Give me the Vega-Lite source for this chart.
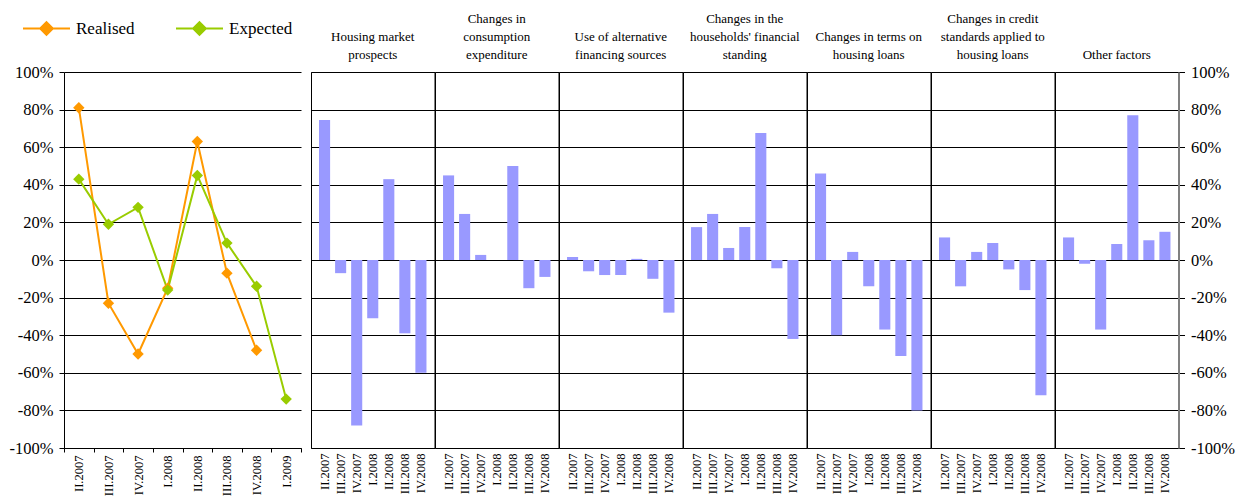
{
 "$schema": "https://vega.github.io/schema/vega-lite/v6.json",
 "background": "white",
 "padding": {"left": 9, "top": 4, "right": 5, "bottom": 0},
 "bounds": "flush",
 "spacing": 0,
 "config": {
  "font": "Liberation Serif",
  "view": {"stroke": "#000", "strokeWidth": 1},
  "axis": {"labelFont": "Liberation Serif", "labelColor": "#000", "gridColor": "#000", "gridOpacity": 1, "gridWidth": 1, "domainColor": "#000", "tickColor": "#000", "title": null},
  "axisX": {"labelAngle": -90, "labelFontSize": 12.5, "ticks": false, "domain": false, "labelPadding": 5},
  "axisY": {"values": [-100, -80, -60, -40, -20, 0, 20, 40, 60, 80, 100], "labelExpr": "datum.value + '%'", "grid": true, "labels": false, "ticks": false, "domain": false},
  "title": {"font": "Liberation Serif", "fontSize": 13, "fontWeight": "normal", "lineHeight": 18, "offset": 10, "anchor": "middle", "color": "#000", "baseline": "bottom"},
  "bar": {"color": "#9999FF"}
 },
 "hconcat": [
  {
   "width": 246.7, "height": 376,
   "view": {"stroke": null},
   "data": {"values": [
    {"q": "II.2007", "s": "Realised", "v": 81},
    {"q": "III.2007", "s": "Realised", "v": -23},
    {"q": "IV.2007", "s": "Realised", "v": -50},
    {"q": "I.2008", "s": "Realised", "v": -15},
    {"q": "II.2008", "s": "Realised", "v": 63},
    {"q": "III.2008", "s": "Realised", "v": -7},
    {"q": "IV.2008", "s": "Realised", "v": -48},
    {"q": "II.2007", "s": "Expected", "v": 43},
    {"q": "III.2007", "s": "Expected", "v": 19},
    {"q": "IV.2007", "s": "Expected", "v": 28},
    {"q": "I.2008", "s": "Expected", "v": -16},
    {"q": "II.2008", "s": "Expected", "v": 45},
    {"q": "III.2008", "s": "Expected", "v": 9},
    {"q": "IV.2008", "s": "Expected", "v": -14},
    {"q": "I.2009", "s": "Expected", "v": -74}
   ]},
   "encoding": {
    "x": {"field": "q", "type": "ordinal", "sort": ["II.2007", "III.2007", "IV.2007", "I.2008", "II.2008", "III.2008", "IV.2008", "I.2009"],
          "scale": {"range": [0, 237], "paddingInner": 0, "paddingOuter": 0},
          "axis": {"tickBand": "extent", "ticks": true, "tickSize": 4, "domain": true, "labelPadding": 3}},
    "y": {"field": "v", "type": "quantitative", "scale": {"domain": [-100, 100], "nice": false},
          "axis": {"labels": true, "labelFontSize": 16.5, "ticks": true, "tickSize": 5, "labelPadding": 6, "domain": true}}
   },
   "layer": [
    {"mark": {"type": "line", "strokeWidth": 2},
     "encoding": {"color": {"field": "s", "type": "nominal", "scale": {"domain": ["Realised", "Expected"], "range": ["#FF9900", "#99CC00"]},
       "legend": {"orient": "none", "legendX": -42, "legendY": -68, "direction": "horizontal", "title": null,
                  "symbolType": "M-1,0L1,0M0,-0.27L0.27,0L0,0.27L-0.27,0Z", "symbolSize": 2209, "symbolStrokeWidth": 2,
                  "labelFontSize": 17, "labelFont": "Liberation Serif", "labelColor": "#000", "labelOffset": 5, "columnPadding": 37,
                  "encode": {"symbols": {"update": {"fill": {"scale": "color", "field": "value"}, "opacity": {"value": 1}}}}}}}},
    {"mark": {"type": "point", "shape": "diamond", "filled": true, "size": 130, "opacity": 1},
     "encoding": {"color": {"field": "s", "type": "nominal", "legend": null}}}
   ]
  },
  {
   "width": 123.5, "height": 376,
   "title": {"text": ["Housing market", "prospects"]},
   "data": {"values": [
    {"q": "II.2007", "v": 74.5}, {"q": "III.2007", "v": -7}, {"q": "IV.2007", "v": -88}, {"q": "I.2008", "v": -31},
    {"q": "II.2008", "v": 43}, {"q": "III.2008", "v": -39}, {"q": "IV.2008", "v": -60}]},
   "mark": "bar",
   "encoding": {
    "x": {"field": "q", "type": "ordinal", "sort": null, "scale": {"paddingInner": 0.31, "paddingOuter": 0.5}},
    "y": {"field": "v", "type": "quantitative", "scale": {"domain": [-100, 100], "nice": false}}
   }
  },
  {
   "width": 123.5, "height": 376,
   "title": {"text": ["Changes in", "consumption", "expenditure"]},
   "data": {"values": [
    {"q": "II.2007", "v": 45}, {"q": "III.2007", "v": 24.5}, {"q": "IV.2007", "v": 2.7}, {"q": "I.2008", "v": 0},
    {"q": "II.2008", "v": 50}, {"q": "III.2008", "v": -15}, {"q": "IV.2008", "v": -9}]},
   "mark": "bar",
   "encoding": {
    "x": {"field": "q", "type": "ordinal", "sort": null, "scale": {"paddingInner": 0.31, "paddingOuter": 0.5}},
    "y": {"field": "v", "type": "quantitative", "scale": {"domain": [-100, 100], "nice": false}}
   }
  },
  {
   "width": 123.5, "height": 376,
   "title": {"text": ["Use of alternative", "financing sources"]},
   "data": {"values": [
    {"q": "II.2007", "v": 1.6}, {"q": "III.2007", "v": -6}, {"q": "IV.2007", "v": -8}, {"q": "I.2008", "v": -8},
    {"q": "II.2008", "v": 0.6}, {"q": "III.2008", "v": -10}, {"q": "IV.2008", "v": -28}]},
   "mark": "bar",
   "encoding": {
    "x": {"field": "q", "type": "ordinal", "sort": null, "scale": {"paddingInner": 0.31, "paddingOuter": 0.5}},
    "y": {"field": "v", "type": "quantitative", "scale": {"domain": [-100, 100], "nice": false}}
   }
  },
  {
   "width": 123.5, "height": 376,
   "title": {"text": ["Changes in the", "households' financial", "standing"]},
   "data": {"values": [
    {"q": "II.2007", "v": 17.5}, {"q": "III.2007", "v": 24.5}, {"q": "IV.2007", "v": 6.4}, {"q": "I.2008", "v": 17.5},
    {"q": "II.2008", "v": 67.5}, {"q": "III.2008", "v": -4.4}, {"q": "IV.2008", "v": -42}]},
   "mark": "bar",
   "encoding": {
    "x": {"field": "q", "type": "ordinal", "sort": null, "scale": {"paddingInner": 0.31, "paddingOuter": 0.5}},
    "y": {"field": "v", "type": "quantitative", "scale": {"domain": [-100, 100], "nice": false}}
   }
  },
  {
   "width": 123.5, "height": 376,
   "title": {"text": ["Changes in terms on", "housing loans"]},
   "data": {"values": [
    {"q": "II.2007", "v": 46}, {"q": "III.2007", "v": -40}, {"q": "IV.2007", "v": 4.3}, {"q": "I.2008", "v": -14},
    {"q": "II.2008", "v": -37}, {"q": "III.2008", "v": -51}, {"q": "IV.2008", "v": -80}]},
   "mark": "bar",
   "encoding": {
    "x": {"field": "q", "type": "ordinal", "sort": null, "scale": {"paddingInner": 0.31, "paddingOuter": 0.5}},
    "y": {"field": "v", "type": "quantitative", "scale": {"domain": [-100, 100], "nice": false}}
   }
  },
  {
   "width": 123.5, "height": 376,
   "title": {"text": ["Changes in credit", "standards applied to", "housing loans"]},
   "data": {"values": [
    {"q": "II.2007", "v": 12}, {"q": "III.2007", "v": -14}, {"q": "IV.2007", "v": 4.3}, {"q": "I.2008", "v": 9},
    {"q": "II.2008", "v": -5}, {"q": "III.2008", "v": -16}, {"q": "IV.2008", "v": -72}]},
   "mark": "bar",
   "encoding": {
    "x": {"field": "q", "type": "ordinal", "sort": null, "scale": {"paddingInner": 0.31, "paddingOuter": 0.5}},
    "y": {"field": "v", "type": "quantitative", "scale": {"domain": [-100, 100], "nice": false}}
   }
  },
  {
   "width": 123.5, "height": 376,
   "title": {"text": "Other factors", "dy": 8},
   "data": {"values": [
    {"q": "II.2007", "v": 12}, {"q": "III.2007", "v": -2}, {"q": "IV.2007", "v": -37}, {"q": "I.2008", "v": 8.5},
    {"q": "II.2008", "v": 77}, {"q": "III.2008", "v": 10.5}, {"q": "IV.2008", "v": 15}]},
   "mark": "bar",
   "encoding": {
    "x": {"field": "q", "type": "ordinal", "sort": null, "scale": {"paddingInner": 0.31, "paddingOuter": 0.5}},
    "y": {"field": "v", "type": "quantitative", "scale": {"domain": [-100, 100], "nice": false},
          "axis": {"orient": "right", "labels": true, "labelFontSize": 16.5, "ticks": true, "tickSize": 6, "labelPadding": 6, "domain": true, "domainColor": "#808080", "domainWidth": 2}}
   }
  }
 ]
}
